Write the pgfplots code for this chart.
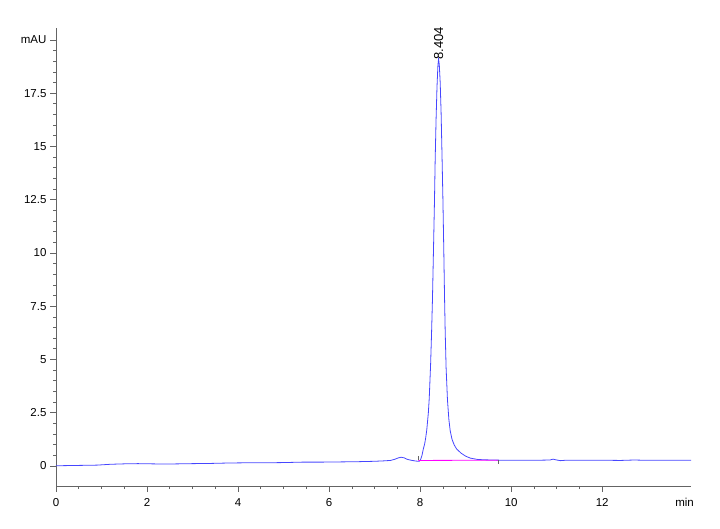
\documentclass[border=0pt]{standalone}
\usepackage{fontspec}
\setmainfont{Liberation Sans}
\usepackage{pgfplots}
\pgfplotsset{compat=1.18}
\definecolor{trace}{RGB}{70,70,255}
\definecolor{base}{RGB}{255,0,255}
\definecolor{axgray}{RGB}{100,100,100}
\begin{document}
\begin{tikzpicture}[x=1pt,y=1pt]
\begin{axis}[
  at={(56pt,42pt)}, anchor=south west,
  scale only axis, width=635pt, height=458pt,
  xmin=0, xmax=13.95, ymin=-0.94, ymax=20.56,
  axis x line*=bottom, axis y line*=left,
  axis line style={axgray, line width=0.8pt},
  tick align=outside,
  major tick length=6pt, minor tick length=3pt,
  every tick/.style={axgray, line width=0.7pt},
  xtick={0,2,4,6,8,10,12},
  xticklabels={0,2,4,6,8,10,12},
  minor x tick num=3,
  ytick={0,2.5,5,7.5,10,12.5,15,17.5,20},
  yticklabels={0,2.5,5,7.5,10,12.5,15,17.5,mAU},
  minor y tick num=4,
  tick label style={font=\fontsize{11.5}{12}\selectfont, black},
  xticklabel style={yshift=-3pt},
  clip=false,
]
\addplot[trace, line width=0.8pt] coordinates {
(0,0.01) (0.3,0.02) (0.6,0.03) (0.9,0.04) (1.2,0.08) (1.5,0.10) (1.8,0.11)
(2.1,0.10) (2.4,0.09) (2.7,0.10) (3.0,0.11) (3.4,0.12) (3.8,0.14) (4.2,0.15)
(4.6,0.15) (5.0,0.16) (5.4,0.18) (5.8,0.18) (6.2,0.19) (6.6,0.20) (7.0,0.22)
(7.2,0.24) (7.35,0.26) (7.45,0.32) (7.52,0.38) (7.58,0.41) (7.65,0.38)
(7.72,0.31) (7.80,0.27) (7.88,0.24) (7.95,0.22) (7.98,0.22) (8.01,0.30)
(8.04,0.50) (8.07,0.80) (8.10,1.05) (8.12,1.30) (8.145,1.69) (8.18,2.5)
(8.20,3.2) (8.23,4.8) (8.25,6.2) (8.27,7.8) (8.30,10.9) (8.315,12.5)
(8.33,14.4) (8.35,16.3) (8.37,17.8) (8.39,18.8) (8.404,19.1) (8.42,18.85)
(8.44,18.0) (8.46,16.6) (8.48,14.6) (8.50,12.5) (8.52,10.0) (8.535,8.0)
(8.55,6.3) (8.57,4.6) (8.60,3.1) (8.63,2.2) (8.66,1.65) (8.70,1.25)
(8.75,0.98) (8.80,0.80) (8.90,0.60) (9.00,0.46) (9.10,0.37) (9.25,0.31)
(9.40,0.29) (9.60,0.28) (9.8,0.27) (10.0,0.27) (10.3,0.27) (10.6,0.27)
(10.85,0.28) (10.92,0.32) (11.0,0.28) (11.08,0.25) (11.2,0.27) (11.6,0.27)
(12.0,0.27) (12.4,0.26) (12.7,0.28) (12.9,0.27) (13.3,0.27) (13.95,0.27)
};
\addplot[base, line width=0.8pt] coordinates {(7.96,0.26) (9.72,0.27)};
\addplot[axgray, line width=0.6pt] coordinates {(7.96,0.26) (7.96,0.45)};
\addplot[axgray, line width=0.6pt] coordinates {(9.72,0.27) (9.72,0.08)};
\node[rotate=90, anchor=west, inner sep=0.5pt, font=\fontsize{13}{14}\selectfont]
  at (axis cs:8.404,19.05) {8.404};
\node[anchor=north east, inner sep=0pt, font=\fontsize{11.5}{12}\selectfont]
  at (axis cs:13.95,-0.94) [yshift=-12pt, xshift=3pt] {min};
\end{axis}
\pgfresetboundingbox
\useasboundingbox (0,0) rectangle (720,528);
\end{tikzpicture}
\end{document}
